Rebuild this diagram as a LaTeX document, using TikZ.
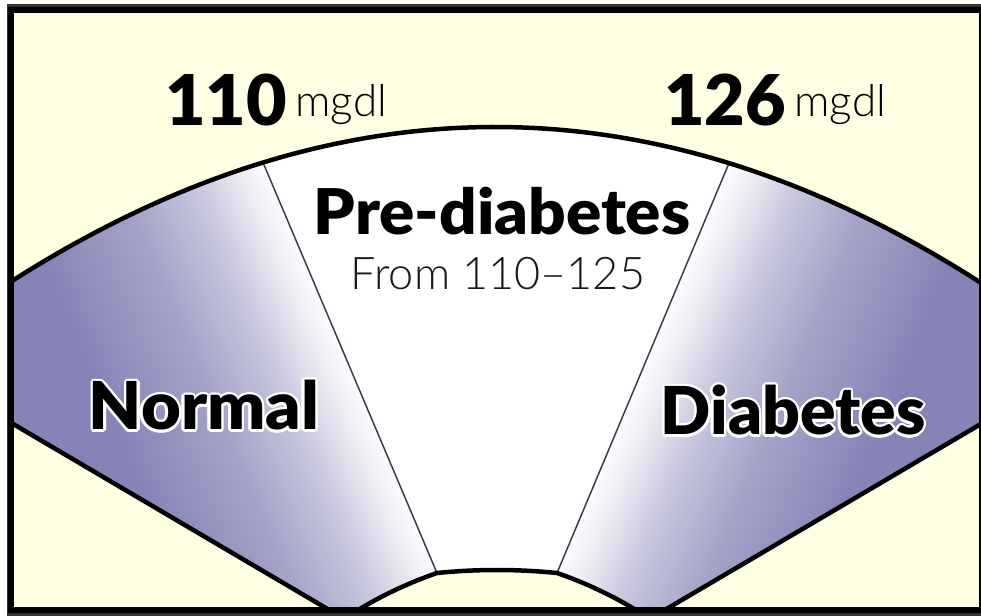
\documentclass[tikz,border=0pt]{standalone}
\usepackage{fontspec}
\setmainfont{Lato}
\newfontfamily\heavyfont{Lato Black}
\newfontfamily\thinfont{Lato Light}
\usepackage[copies]{contour}
\contourlength{2.5pt}
\usetikzlibrary{positioning}
\definecolor{cream}{RGB}{255,255,228}
\definecolor{fanpurple}{RGB}{134,132,182}
\definecolor{divgray}{RGB}{60,60,80}
\pgfdeclarehorizontalshading{zonefade}{100bp}{color(0bp)=(fanpurple); color(43.75bp)=(fanpurple);
  color(50bp)=(fanpurple!75); color(54.4bp)=(fanpurple!45); color(57.2bp)=(fanpurple!15);
  color(59bp)=(white); color(100bp)=(white)}

\begin{document}
\begin{tikzpicture}[x=1pt, y=1pt,
    declare function={rim(\x)=488-6.6*((\x-495)/100)^2;},
    rimline/.style={line width=4.5pt, line join=round},
    divider/.style={divgray, line width=1.5pt},
    numlabel/.style={font=\heavyfont\fontsize{70}{70}\selectfont, inner sep=0pt, anchor=base west},
    unitlabel/.style={font=\thinfont\fontsize{44}{44}\selectfont, inner sep=0pt, anchor=base west},
    zonelabel/.style={font=\heavyfont\fontsize{66}{66}\selectfont, inner sep=0pt, anchor=base}]
  \useasboundingbox (0,0) rectangle (981,615);
  \fill[white] (0,0) rectangle (981,615);
  \fill[cream] (14,9) rectangle (979,602);

  % the fan, cut off by the frame
  \begin{scope}
    \clip (14,9) rectangle (979,602);
    % Normal zone
    \begin{scope}
      \clip (-20,{rim(-20)}) -- plot[domain=-20:263, samples=40] (\x,{rim(\x)})
        -- (437,42) .. controls (405,31) and (370,14) .. (344.5,-4)
        -- (-20,210.5) -- cycle;
      \shade[shading=zonefade, transform canvas={rotate around={23:(208,224)}}]
        (-192,-176) rectangle (608,624);
    \end{scope}
    % Pre-diabetes zone
    \fill[white] (263,{rim(263)}) -- plot[domain=263:729, samples=40] (\x,{rim(\x)})
      -- (557,42) .. controls (517,46) and (477,46) .. (437,42) -- cycle;
    % Diabetes zone
    \begin{scope}
      \clip (729,{rim(729)}) -- plot[domain=729:1014, samples=40] (\x,{rim(\x)})
        -- (1014,210.5) -- (649.5,-4) .. controls (624,14) and (589,31) .. (557,42) -- cycle;
      \shade[shading=zonefade, transform canvas={rotate around={157:(786,224)}}]
        (386,-176) rectangle (1186,624);
    \end{scope}

    % zone borders
    \coordinate (lowtop) at (263,{rim(263)});
    \coordinate (lowbot) at (437,42);
    \coordinate (hightop) at (729,{rim(729)});
    \coordinate (highbot) at (557,42);
    \draw[divider] (lowtop) -- (lowbot);
    \draw[divider] (hightop) -- (highbot);

    \draw[rimline] plot[domain=-20:1014, samples=100] (\x,{rim(\x)});
    \draw[rimline] (-20,210.5) -- (344.5,-4) .. controls (370,14) and (405,31) .. (lowbot)
      .. controls (477,46) and (517,46) .. (highbot)
      .. controls (589,31) and (624,14) .. (649.5,-4) -- (1014,210.5);
  \end{scope}

  % frame
  \draw[black!80, line width=3pt] (8.5,1) rectangle (984,609.5);
  \draw[line width=6pt] (11,5.5) rectangle (982,605);

  % thresholds
  \node[numlabel] (low) at (165,489) {110};
  \node[unitlabel, above right=9pt and 8pt of low.base east, anchor=base west] (lowunit) {mgdl};
  \node[numlabel] (high) at (664,489) {126};
  \node[unitlabel, above right=9pt and 8pt of high.base east, anchor=base west] (highunit) {mgdl};

  % zone names
  \node[zonelabel, font=\heavyfont\fontsize{63}{63}\selectfont] (pre) at (502,380) {\scalebox{1.04}[1]{Pre-diabetes}};
  \node[unitlabel, anchor=base, black!90, font=\thinfont\fontsize{45}{45}\selectfont] (range) at (498,325) {From 110–125};
  \node[zonelabel] (normal) at (204,185) {\scalebox{1.04}[1]{\contour{white}{Normal}}};
  \node[zonelabel] (diab) at (793,180) {\contour{white}{Diabetes}};
\end{tikzpicture}
\end{document}
